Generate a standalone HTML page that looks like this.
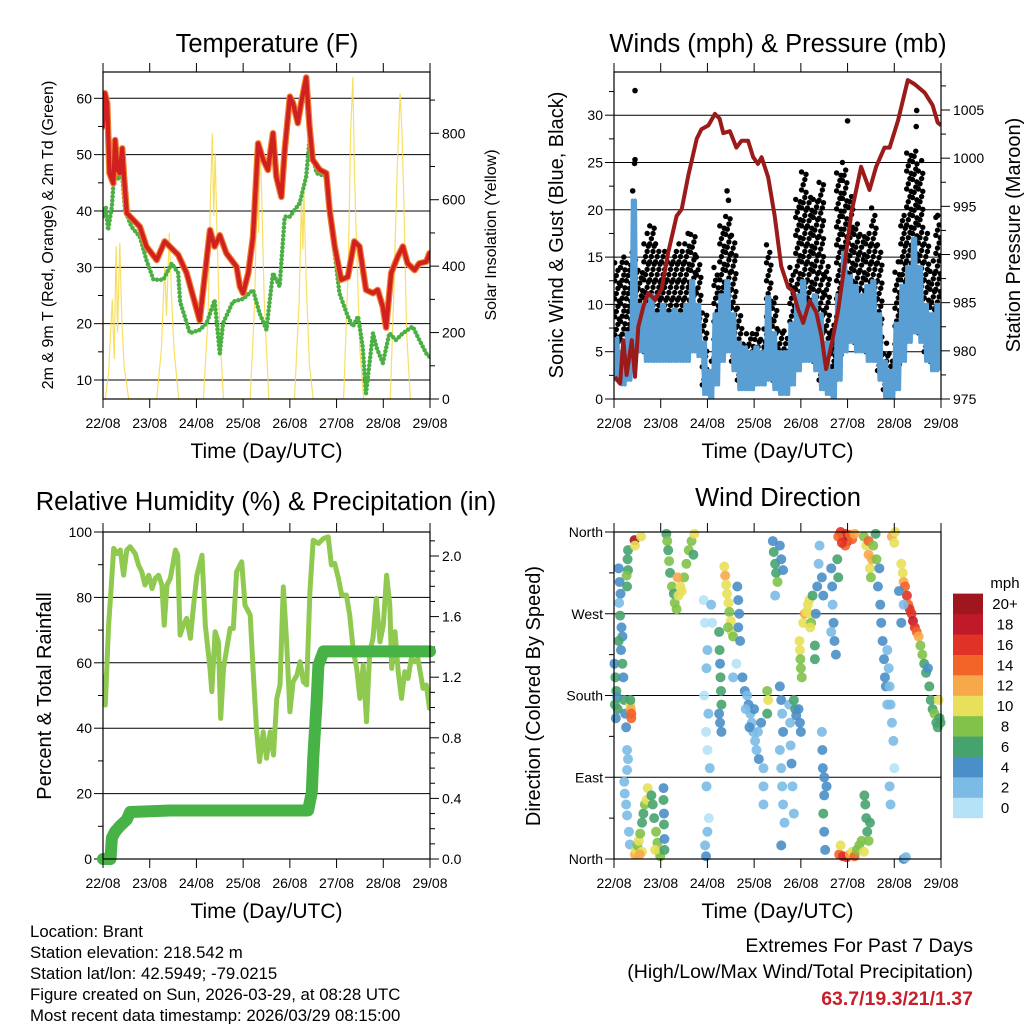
<!DOCTYPE html>
<html><head><meta charset="utf-8"><title>Weather station</title>
<style>body{margin:0;background:#fff}svg{display:block;font-family:"Liberation Sans",Arial,sans-serif}</style>
</head><body>
<svg id="c" width="1024" height="1024" xmlns="http://www.w3.org/2000/svg"></svg>
<script>
// ---------- Temperature panel data ----------
const dayLabels = ['22/08','23/08','24/08','25/08','26/08','27/08','28/08','29/08'];
const tempDays = [0,0.04,0.09,0.14,0.22,0.26,0.31,0.36,0.41,0.45,0.51,0.65,0.79,0.93,1.15,1.32,1.43,1.61,1.79,2.07,2.29,2.39,2.5,2.64,2.86,2.93,3.0,3.11,3.21,3.32,3.43,3.53,3.64,3.71,3.82,3.89,4.0,4.07,4.17,4.24,4.35,4.42,4.49,4.64,4.78,4.85,4.96,5.1,5.24,5.38,5.49,5.63,5.78,5.88,5.99,6.06,6.17,6.31,6.42,6.52,6.67,6.77,6.92,6.99];
const tempVals = [55.0,60.9,59.1,46.7,44.9,52.6,47.3,46.7,51.1,46.1,39.6,38.4,37.2,33.7,31.3,34.6,33.7,32.2,29.0,20.6,36.6,33.7,35.7,32.5,30.1,26.6,25.4,29.0,35.4,52.0,49.1,47.3,53.8,46.1,42.5,50.8,60.3,59.1,55.6,59.1,63.7,55.0,49.1,47.3,46.7,40.2,33.7,27.8,28.3,34.6,33.7,26.0,25.4,26.0,23.0,19.3,29.0,31.9,33.7,30.7,29.5,30.7,31.0,32.5];
const dewDays = [0,0.06,0.11,0.19,0.26,0.33,0.4,0.47,0.61,0.79,0.93,1.08,1.29,1.47,1.61,1.65,1.86,2.07,2.22,2.39,2.5,2.57,2.78,3.0,3.21,3.35,3.5,3.57,3.64,3.78,3.89,4.0,4.21,4.35,4.42,4.57,4.78,4.85,5.06,5.24,5.35,5.46,5.56,5.63,5.78,5.85,5.99,6.13,6.27,6.42,6.63,6.77,6.92,6.99];
const dewVals = [39.0,40.8,36.6,40.8,49.1,45.5,47.3,40.2,37.2,35.4,31.3,27.8,27.8,30.7,29.0,23.9,18.3,18.9,20.1,24.2,14.7,20.1,23.9,24.4,26.0,21.9,18.9,24.2,29.0,26.6,39.0,39.0,41.4,46.1,52.6,46.7,46.1,40.2,25.4,21.3,19.5,21.3,15.9,7.6,18.3,15.9,13.0,18.3,17.1,18.3,19.5,17.1,14.7,14.1];
const solarDays = [0.05,0.12,0.2,0.24,0.28,0.31,0.36,0.4,0.45,0.55, 1.15,1.25,1.32,1.36,1.42,1.47,1.52,1.62, 2.15,2.25,2.3,2.34,2.37,2.4,2.44,2.5,2.58, 3.15,3.25,3.3,3.33,3.36,3.4,3.45,3.55, 4.1,4.2,4.25,4.28,4.3,4.35,4.42,4.5, 5.15,5.25,5.3,5.35,5.38,5.42,5.5,5.58, 6.15,6.22,6.3,6.36,6.4,6.44,6.5,6.58];
const solarVals = [0,80,300,120,460,200,470,250,100,0, 0,150,400,250,500,300,150,0, 0,250,600,800,550,740,500,200,0, 0,300,700,500,780,600,300,0, 0,300,600,450,630,350,100,0, 0,400,800,970,700,500,150,0, 0,300,700,920,800,600,200,0];
const tempTicks = [10,20,30,40,50,60];
const solarTicks = [0,200,400,600,800];

// ---------- Wind panel data (3-hour bins) ----------
const gustHi = [14.5,15.5,15,16,14.7,17.5,18.9,16.7,16,15.5,16.4,16.7,17.5,18,15.2,9.8,4,14,19,20,17.6,9.8,7,7.6,8,7.6,16.7,11,8,7.6,14,21.7,24.6,21.7,21.7,23.5,14.7,8.3,24.7,25,21.7,19,18,18,20.5,16.7,5.9,5,14.7,20,26.7,26.7,25.3,18,14.7,19.5];
const gustLo = [5,6.5,7,8,8.4,9,9,8.5,9,9,8.8,8.5,8.4,8,7.8,2,1.6,4.5,8,10,8,3.8,3,2.5,3.8,3,5.8,3.8,3,3.8,4.5,10,8.8,9,9.5,8,3,0.6,6.6,10,12,11,13,10,10,5.2,1,1,2.3,8.4,10,11.9,12,6.6,5.2,7.3];
const windHi = [6.5,5,7,21,10,10,11,9,10,9,9.5,9,10,12.5,10,6,3,9,11,12.5,9,6,5.5,5,5.5,5,10.8,7,5,5,8,11,12.5,10,11,9,6,3,11,15.5,13,12,11,12,12.5,9,4,3,8,12,14,17,14,10,9,10];
const windLo = [2,1.5,2,5,5,4,4,4,4,4,4,4,4,5,4.5,0.5,0,1.5,4,5,3,1,1,1,1.5,1.5,2,1,0.5,0.5,1.5,3,4,4,3,1,0.5,0,2,5,6,5,5,4,4,2,0,0,1,4,6,7,6,4,3,3];
const gustOutDays = [0.45,0.45,0.44,0.4,2.42,2.45,5.0,6.48,6.47,6.93];
const gustOutVals = [32.6,25.3,24.9,22,22,21,29.4,30.5,28.8,19.4];
const presDays = [0.02,0.13,0.2,0.27,0.38,0.45,0.52,0.63,0.73,0.88,1.02,1.16,1.34,1.45,1.59,1.77,1.87,2.02,2.16,2.26,2.34,2.48,2.62,2.73,2.87,2.98,3.08,3.16,3.3,3.44,3.58,3.73,3.83,3.94,4.05,4.19,4.33,4.44,4.54,4.65,4.79,4.94,5.08,5.29,5.47,5.61,5.79,5.9,6.08,6.29,6.43,6.65,6.82,6.93,7.0];
const presVals = [977.3,976.6,981.1,977.5,981.1,977.3,982.5,984.6,986.0,985.3,986.4,990.2,994.0,994.7,998.2,1002.0,1003.0,1003.4,1004.6,1004.1,1002.6,1002.8,1001.1,1001.8,1001.8,1000.1,999.4,1000.1,998.0,994.0,988.8,986.6,986.2,984.3,982.9,985.2,984.0,981.6,978.1,980.5,984.0,989.1,994.3,999.1,996.7,999.1,1001.1,1001.1,1003.9,1008.1,1007.7,1006.8,1005.5,1003.7,1003.4];
const windTicks = [0,5,10,15,20,25,30];
const presTicks = [975,980,985,990,995,1000,1005];

// ---------- RH / precip data ----------
const rhDays = [0,0.05,0.12,0.17,0.23,0.3,0.37,0.44,0.51,0.58,0.69,0.76,0.83,0.9,0.98,1.05,1.12,1.19,1.26,1.31,1.37,1.44,1.55,1.6,1.65,1.72,1.79,1.87,1.94,2.01,2.12,2.19,2.29,2.33,2.4,2.47,2.52,2.58,2.65,2.72,2.79,2.86,2.97,3.04,3.15,3.22,3.29,3.35,3.43,3.5,3.58,3.65,3.72,3.79,3.86,3.93,4.0,4.07,4.15,4.22,4.29,4.36,4.43,4.5,4.61,4.72,4.82,4.89,4.96,5.04,5.11,5.21,5.28,5.36,5.43,5.5,5.57,5.64,5.71,5.78,5.85,5.93,6.0,6.07,6.14,6.18,6.25,6.32,6.39,6.46,6.53,6.6,6.67,6.74,6.85,6.92,6.99];
const rhVals = [55.7,47.1,71.5,81.7,95.0,93.4,94.5,86.8,94.5,95.5,93.4,89.9,87.8,83.8,86.8,82.7,85.8,86.8,83.8,71.5,83.8,85.8,94.5,92.9,68.5,71.5,73.6,67.5,77.6,86.8,92.9,71.5,58.3,51.2,69.5,66.4,43.0,58.3,64.4,70.5,70.5,87.8,90.9,77.6,74.6,56.2,38.9,29.8,38.9,30.8,38.9,31.8,49.1,53.2,83.2,66.4,45.0,54.2,56.2,60.3,54.2,53.2,81.7,97.5,96.5,98.0,98.5,89.9,90.4,85.8,80.7,80.7,74.6,63.4,58.3,49.1,59.3,42.0,63.4,67.5,79.7,66.4,71.5,86.8,77.6,58.3,69.5,57.3,49.1,57.3,55.2,61.3,60.3,61.3,52.2,53.2,46.1];
const rainDays = [0,0.16,0.19,0.26,0.37,0.51,0.58,1.44,3.86,4.39,4.47,4.5,4.57,4.61,4.72,7.0];
const rainVals = [0,0,0.14,0.18,0.22,0.26,0.31,0.32,0.32,0.32,0.44,0.66,1.02,1.28,1.37,1.37];
const rhTicks = [0,20,40,60,80,100];
const rainTicks = [0.0,0.4,0.8,1.2,1.6,2.0];

// ---------- Wind direction data ----------
const dirTickVals = [0,90,180,270,360];
const dirTickLabels = ['North','East','South','West','North'];
const speedBins = ['0','2','4','6','8','10','12','14','16','18','20+'];
const speedColors = ['#b6e2f7','#7bbbe6','#4a8fc8','#47a36e','#80c24a','#e8e05a','#f7a84a','#f26428','#e03226','#c0192a','#a0161e'];
const dirDays = [
0.01,0.03,0.05,0.07,0.02,0.08,0.04,
0.1,0.12,0.14,0.11,0.13,0.16,0.18,0.1,
0.3,0.29,0.3,0.28,0.27,
0.15,0.18,0.2,0.22,0.24,0.26,0.28,0.3,0.28,
0.35,0.36,0.37,0.37,0.35,
0.44,0.58,0.45,
0.22,0.23,0.26,0.28,0.32,0.34,
0.45,0.47,0.5,0.53,0.56,0.6,0.63,0.66,0.7,0.72,0.8,0.83,0.86,0.9,0.93,0.96,0.99,0.6,0.55,0.88,
1.06,1.06,1.07,1.07,1.08,1.08,
1.12,1.14,1.16,1.18,1.2,1.24,1.28,1.3,1.34,1.38,1.42,1.45,1.5,1.55,1.6,1.66,1.72,1.7,1.36,
1.92,1.95,2.0,1.98,1.93,2.02,1.97,2.0,2.05,1.98,2.03,2.0,1.95,1.97,2.08,2.1,
2.25,2.26,2.27,2.28,2.29,2.3,2.25,2.27,2.3,
2.36,2.38,2.4,2.42,2.45,2.47,2.5,2.52,2.44,2.55,
2.64,2.66,2.68,2.66,2.7,2.62,2.55,
2.75,2.8,2.85,2.88,2.92,2.95,2.98,3.02,3.05,3.1,2.9,3.0,3.15,2.82,3.08,
3.28,3.3,3.28,3.2,3.2,3.2,
3.4,3.42,3.45,3.47,3.5,3.55,3.58,3.62,3.45,
3.55,3.58,3.6,3.62,3.55,3.58,3.6,3.62,3.65,3.58,3.75,3.77,3.78,3.8,3.82,3.85,
3.85,3.88,3.9,3.95,3.98,4.0,
3.97,3.98,3.99,4.0,4.02,4.05,4.08,4.12,4.15,4.18,4.2,4.22,4.2,4.25,
4.3,4.3,4.32,4.35,4.38,4.4,4.45,4.48,
4.45,4.46,4.47,4.5,4.5,4.48,4.5,4.52,4.55,
4.85,4.9,4.95,5.0,5.05,5.1,5.15,4.95,4.8,4.88,
4.82,4.9,4.98,5.05,5.1,5.15,5.2,5.25,5.3,5.35,4.85,
4.65,4.67,4.68,4.7,4.72,4.75,4.78,4.8,4.65,
5.35,5.4,5.45,5.48,5.5,5.52,5.45,5.55,5.6,5.62,
5.36,5.38,5.4,5.42,5.45,5.48,
5.65,5.7,5.72,5.75,5.78,5.8,5.82,5.68,5.85,
5.85,5.88,5.9,5.92,5.95,5.98,6.0,5.9,5.92,
6.15,6.18,6.2,6.23,6.27,6.3,6.33,6.37,6.4,6.44,6.48,6.52,6.56,6.6,6.64,6.68,6.1,6.2,6.15,
6.72,6.75,6.78,6.82,6.86,6.9,6.93,6.95,6.97,6.99,
5.95,6.0,6.02,6.2,6.25];
const dirDegs = [
215,200,185,178,170,165,155,
320,305,292,282,268,255,245,240,
340,330,318,300,312,
230,215,200,175,160,145,120,110,98,
170,165,160,155,175,
351,355,345,
85,72,60,48,30,16,
5,10,15,20,28,40,50,60,65,78,70,60,45,30,18,8,3,8,5,10,
78,65,50,38,22,10,
358,350,340,328,315,300,292,282,275,290,300,295,310,325,340,350,358,335,310,
285,260,230,210,180,160,140,120,100,80,45,30,15,3,280,260,
250,230,215,200,185,170,160,150,140,
322,312,302,292,282,272,262,250,255,245,
300,285,270,255,240,215,200,
200,185,180,170,160,150,140,130,120,110,145,165,150,165,140,
185,175,160,100,80,60,
350,338,325,315,305,345,330,318,290,
190,175,160,140,120,100,80,60,40,15,170,150,125,105,80,50,
175,165,158,165,150,140,
240,230,220,210,200,260,270,272,280,285,270,260,255,290,
235,220,270,300,325,345,310,290,
140,120,100,90,70,50,30,10,80,
360,355,358,350,357,352,358,345,355,348,
5,3,2,5,8,3,10,15,20,8,15,
320,300,280,260,240,225,330,310,250,
355,345,335,320,310,330,350,345,358,330,
70,60,45,30,20,40,
300,280,260,240,220,200,190,320,170,
230,210,190,170,150,130,100,80,60,
325,315,305,300,290,280,275,270,262,255,250,245,235,225,215,205,295,280,260,
210,190,175,165,160,150,145,175,155,150,
355,348,360,0,2];
const dirSpeeds = [
4,6,6,4,6,6,4,
4,4,4,2,6,4,4,6,
6,6,6,6,8,
4,6,4,6,4,4,2,2,2,
10,12,14,14,6,
20,10,10,
2,2,2,2,2,2,
12,10,8,10,8,6,6,8,10,10,6,6,6,8,8,8,8,10,12,10,
4,6,4,6,4,6,
6,8,6,8,6,8,6,8,8,10,10,10,8,8,8,8,10,6,12,
0,0,2,2,0,2,0,0,2,2,0,2,2,4,2,0,
6,6,4,6,6,6,4,4,4,
10,12,10,10,10,8,10,10,8,8,
4,4,4,4,4,0,2,
4,4,2,4,2,2,2,2,2,4,4,4,4,2,2,
8,10,6,2,2,2,
4,6,6,6,8,4,4,4,2,
4,4,2,4,2,2,2,2,2,4,2,2,2,4,2,2,
6,6,4,4,4,4,
10,10,8,8,8,10,12,10,10,10,10,8,10,6,
6,6,4,4,2,2,4,4,
2,4,4,4,4,6,4,4,4,
16,18,16,18,14,14,12,14,14,16,
14,16,16,12,10,14,8,8,8,10,10,
4,4,2,4,4,4,6,6,2,
8,10,12,10,8,12,14,8,6,8,
6,6,6,6,8,6,
4,4,4,4,4,4,4,4,2,
2,2,2,2,2,2,0,2,2,
10,10,12,14,16,14,16,16,18,16,14,12,8,8,6,6,4,2,4,
4,6,6,6,8,6,6,10,6,6,
12,10,10,4,2];

// ---------- drawing ----------
const NS = 'http://www.w3.org/2000/svg';
const svg = document.getElementById('c');
function mk(tag, attrs, parent) {
  const e = document.createElementNS(NS, tag);
  for (const k in attrs) e.setAttribute(k, attrs[k]);
  (parent || svg).appendChild(e);
  return e;
}
function lin(d0, d1, r0, r1) { return v => r0 + (v - d0) * (r1 - r0) / (d1 - d0); }
function txt(parent, x, y, s, size, anchor, name, extra) {
  const t = mk('text', Object.assign({x: x, y: y, 'font-size': size, 'text-anchor': anchor, fill: '#000'}, extra || {}), parent);
  t.textContent = s;
  
  
  return t;
}
function pathFrom(xs, ys) { return xs.map((x, i) => (i ? 'L' : 'M') + x.toFixed(1) + ' ' + ys[i].toFixed(1)).join(''); }

const P1 = {l: 103, r: 430, t: 72, b: 399};
const P2 = {l: 614, r: 941, t: 72, b: 399};
const P3 = {l: 103, r: 430, t: 532, b: 859};
const P4 = {l: 614, r: 941, t: 532, b: 859};

function panel(P, name, clipId) {
  const g = mk('g', {});
  
  
  const cp = mk('clipPath', {id: clipId}, g);
  mk('rect', {x: P.l, y: P.t, width: P.r - P.l, height: P.b - P.t}, cp);
  return g;
}
function gridAndLeft(g, P, vals, sc, labels, minor) {
  vals.forEach((v, i) => {
    const y = sc(v);
    const gl = mk('line', {x1: P.l, x2: P.r, y1: y, y2: y, stroke: '#000', 'stroke-width': 1}, g);
    
    const tk = mk('line', {x1: P.l - 9, x2: P.l, y1: y, y2: y, stroke: '#000', 'stroke-width': 1}, g);
    
    txt(g, P.l - 11, y + 5, labels[i], 14, 'end', 'y-tick-label');
  });
  (minor || []).forEach(v => {
    const y = sc(v);
    const tk = mk('line', {x1: P.l - 5, x2: P.l, y1: y, y2: y, stroke: '#000', 'stroke-width': 1}, g);
    
  });
}
function rightAxis(g, P, vals, sc, labels, minor) {
  vals.forEach((v, i) => {
    const y = sc(v);
    const tk = mk('line', {x1: P.r, x2: P.r + 9, y1: y, y2: y, stroke: '#000', 'stroke-width': 1}, g);
    
    txt(g, P.r + 12, y + 5, labels[i], 14, 'start', 'right-tick-label');
  });
  (minor || []).forEach(v => {
    const y = sc(v);
    const tk = mk('line', {x1: P.r, x2: P.r + 5, y1: y, y2: y, stroke: '#000', 'stroke-width': 1}, g);
    
  });
}
function xAxis(g, P, title) {
  const xs = lin(0, 7, P.l, P.r);
  dayLabels.forEach((s, i) => {
    const x = xs(i);
    const tb = mk('line', {x1: x, x2: x, y1: P.b, y2: P.b + 9, stroke: '#000'}, g);
    
    const tt = mk('line', {x1: x, x2: x, y1: P.t - 9, y2: P.t, stroke: '#000'}, g);
    
    txt(g, x, P.b + 29, s, 14, 'middle', 'x-tick-label');
  });
  txt(g, (P.l + P.r) / 2, P.b + 59, title, 21, 'middle', 'x-axis-title');
}
function frame(g, P) {
  const f = mk('rect', {x: P.l, y: P.t, width: P.r - P.l, height: P.b - P.t, fill: 'none', stroke: '#000', 'stroke-width': 1.2}, g);
  
}
function vtitle(g, x, y, s, size, name) {
  txt(g, x, y, s, size, 'middle', name, {transform: 'rotate(-90 ' + x + ' ' + y + ')'});
}

// ===== Panel 1: Temperature =====
(function () {
  const P = P1;
  const g = panel(P, 'temperature-panel', 'clip1');
  const xs = lin(0, 7, P.l, P.r);
  const ty = lin(10, 60, 380, 98.3);
  const sy = lin(0, 800, 399, 133.3);
  gridAndLeft(g, P, tempTicks, ty, tempTicks.map(String), [15, 25, 35, 45, 55]);
  rightAxis(g, P, solarTicks, sy, solarTicks.map(String), [100, 300, 500, 700, 900]);
  const d = mk('g', {'clip-path': 'url(#clip1)'}, g);
  const solar = mk('path', {d: pathFrom(solarDays.map(xs), solarVals.map(sy)), fill: 'none', stroke: '#f6d948', 'stroke-width': 1.2, opacity: 0.85}, d);
  
  const dew = mk('path', {d: pathFrom(dewDays.map(xs), dewVals.map(ty)), fill: 'none', stroke: '#4bb043', 'stroke-width': 4.5, 'stroke-dasharray': '0 4', 'stroke-linecap': 'round', 'stroke-linejoin': 'round'}, d);
  
  const t9 = mk('path', {d: pathFrom(tempDays.map(xs), tempVals.map(ty)), fill: 'none', stroke: '#f08030', 'stroke-width': 6.5, 'stroke-linejoin': 'round', 'stroke-linecap': 'round'}, d);
  
  const t2 = mk('path', {d: pathFrom(tempDays.map(xs), tempVals.map(ty)), fill: 'none', stroke: '#d02020', 'stroke-width': 4.2, 'stroke-linejoin': 'round', 'stroke-linecap': 'round'}, d);
  
  frame(g, P);
  xAxis(g, P, 'Time (Day/UTC)');
  txt(g, 267, 52, 'Temperature (F)', 25.5, 'middle', 'chart-title');
  vtitle(g, 53, 235, '2m & 9m T (Red, Orange) & 2m Td (Green)', 16, 'y-axis-title');
  vtitle(g, 496, 235, 'Solar Insolation (Yellow)', 16, 'y-axis-title-right');
})();

// ===== Panel 2: Winds & Pressure =====
(function () {
  const P = P2;
  const g = panel(P, 'wind-pressure-panel', 'clip2');
  const xs = lin(0, 7, P.l, P.r);
  const wy = lin(0, 30, 399, 115.2);
  const py = lin(975, 1005, 399, 110);
  gridAndLeft(g, P, windTicks, wy, windTicks.map(String), [2.5, 7.5, 12.5, 17.5, 22.5, 27.5, 32.5]);
  rightAxis(g, P, presTicks, py, presTicks.map(String), [977.5, 982.5, 987.5, 992.5, 997.5, 1002.5, 1007.5]);
  const d = mk('g', {'clip-path': 'url(#clip2)'}, g);
  const gustG = mk('g', {fill: '#000'}, d);
  
  const offs = [0.015, 0.05, 0.085, 0.11];
  gustHi.forEach((hi, i) => {
    const t0 = i * 0.125;
    for (let k = 0; k < 4; k++) {
      const lo = Math.max(0, windLo[i] + 1);
      for (let v = lo + k * 0.55; v <= hi - (k % 2) * 0.8; v += 1.9) {
        const c = mk('circle', {cx: xs(t0 + offs[k]), cy: wy(v), r: 2.7}, gustG);
        
      }
    }
  });
  gustOutDays.forEach((t, i) => {
    const c = mk('circle', {cx: xs(t), cy: wy(gustOutVals[i]), r: 2.8}, gustG);
    
  });
  const zx = [], zy = [];
  windHi.forEach((v, i) => { zx.push(xs(i * 0.125 + 0.02)); zy.push(wy(v)); zx.push(xs(i * 0.125 + 0.05)); zy.push(wy(windLo[i])); zx.push(xs(i * 0.125 + 0.08)); zy.push(wy(v)); zx.push(xs(i * 0.125 + 0.11)); zy.push(wy(windLo[i])); });
  const z = mk('path', {d: pathFrom(zx, zy), fill: 'none', stroke: '#5a9fd4', 'stroke-width': 3.5, 'stroke-linejoin': 'round'}, d);
  
  const pr = mk('path', {d: pathFrom(presDays.map(xs), presVals.map(py)), fill: 'none', stroke: '#9b1a1a', 'stroke-width': 4, 'stroke-linejoin': 'round'}, d);
  
  frame(g, P);
  xAxis(g, P, 'Time (Day/UTC)');
  txt(g, 778, 52, 'Winds (mph) & Pressure (mb)', 25.5, 'middle', 'chart-title');
  vtitle(g, 563, 235, 'Sonic Wind & Gust (Blue, Black)', 20, 'y-axis-title');
  vtitle(g, 1020, 235, 'Station Pressure (Maroon)', 20, 'y-axis-title-right');
})();

// ===== Panel 3: RH & Precipitation =====
(function () {
  const P = P3;
  const g = panel(P, 'humidity-precip-panel', 'clip3');
  const xs = lin(0, 7, P.l, P.r);
  const ry = lin(0, 100, 859, 532);
  const qy = lin(0, 2, 859, 556);
  gridAndLeft(g, P, rhTicks, ry, rhTicks.map(String), [10, 30, 50, 70, 90]);
  rightAxis(g, P, rainTicks, qy, rainTicks.map(v => v.toFixed(1)), [0.1,0.2,0.3,0.5,0.6,0.7,0.9,1.0,1.1,1.3,1.4,1.5,1.7,1.8,1.9,2.1]);
  const d = mk('g', {'clip-path': 'url(#clip3)'}, g);
  const rh = mk('path', {d: pathFrom(rhDays.map(xs), rhVals.map(ry)), fill: 'none', stroke: '#8fc94f', 'stroke-width': 5, 'stroke-linejoin': 'round', 'stroke-linecap': 'round'}, d);
  
  const rn = mk('path', {d: pathFrom(rainDays.map(xs), rainVals.map(qy)), fill: 'none', stroke: '#47b347', 'stroke-width': 12, 'stroke-linejoin': 'round', 'stroke-linecap': 'round'}, g);
  
  frame(g, P);
  xAxis(g, P, 'Time (Day/UTC)');
  txt(g, 266, 510, 'Relative Humidity (%) & Precipitation (in)', 25.5, 'middle', 'chart-title');
  vtitle(g, 51, 696, 'Percent & Total Rainfall', 20, 'y-axis-title');
})();

// ===== Panel 4: Wind Direction =====
(function () {
  const P = P4;
  const g = panel(P, 'wind-direction-panel', 'clip4');
  const xs = lin(0, 7, P.l, P.r);
  const dy = lin(0, 360, 859, 532);
  gridAndLeft(g, P, dirTickVals, dy, dirTickLabels, [45, 135, 225, 315]);
  const d = mk('g', {}, g);
  
  dirDays.forEach((t, i) => {
    const ci = Math.min(10, Math.floor(dirSpeeds[i] / 2));
    const c = mk('circle', {cx: xs(t), cy: dy(dirDegs[i]), r: 5, fill: speedColors[ci], opacity: 0.9}, d);
    
  });
  frame(g, P);
  xAxis(g, P, 'Time (Day/UTC)');
  txt(g, 778, 506, 'Wind Direction', 25.5, 'middle', 'chart-title');
  vtitle(g, 540, 696, 'Direction (Colored By Speed)', 20, 'y-axis-title');
  const lg = mk('g', {}, g);
  
  txt(lg, 1005, 588, 'mph', 15, 'middle', 'colorbar-title');
  for (let i = 0; i < speedBins.length; i++) {
    const y = 818 - (i + 1) * 20.4;
    const r = mk('rect', {x: 953, y: y, width: 30, height: 20.6, fill: speedColors[i]}, lg);
    
    txt(lg, 1005, y + 15.5, speedBins[i], 15, 'middle', 'colorbar-label');
  }
})();

// ===== Footer =====
const fg = mk('g', {});


['Location: Brant','Station elevation: 218.542 m','Station lat/lon: 42.5949; -79.0215','Figure created on Sun, 2026-03-29, at 08:28 UTC','Most recent data timestamp: 2026/03/29 08:15:00'].forEach((s, i) => {
  txt(fg, 30, 937 + i * 21, s, 16.8, 'start', 'station-info-line');
});
const eg = mk('g', {});


txt(eg, 973, 952, 'Extremes For Past 7 Days', 19.5, 'end', 'extremes-title');
txt(eg, 973, 978, '(High/Low/Max Wind/Total Precipitation)', 19.5, 'end', 'extremes-subtitle');
txt(eg, 973, 1005, '63.7/19.3/21/1.37', 19.5, 'end', 'extremes-values', {fill: '#c8202a', 'font-weight': 'bold'});
</script>
</body></html>
